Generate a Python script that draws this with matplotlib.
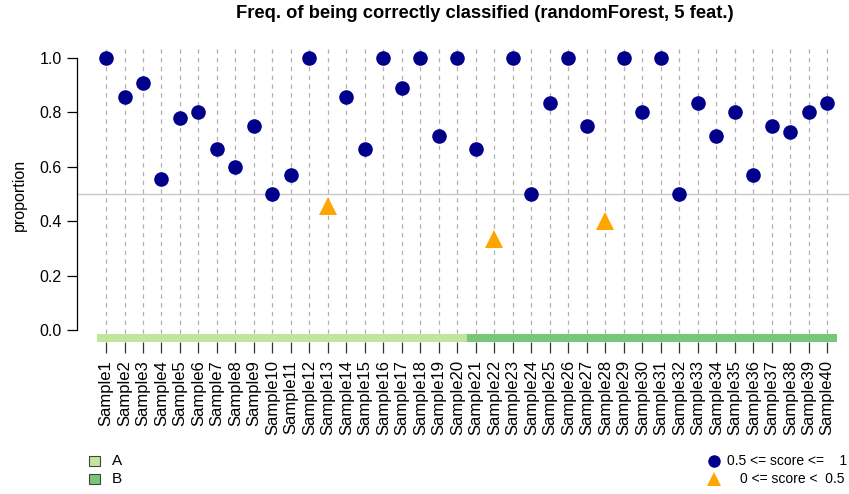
import numpy as np
import matplotlib.pyplot as plt
from matplotlib.patches import Rectangle

plt.rcParams["font.family"] = ["Liberation Sans", "DejaVu Sans"]

samples = [f"Sample{i}" for i in range(1, 41)]
proportion = [1.0, 0.857, 0.909, 0.556, 0.778, 0.8, 0.667, 0.6, 0.75, 0.5,
              0.571, 1.0, 0.455, 0.857, 0.667, 1.0, 0.889, 1.0, 0.714, 1.0,
              0.667, 0.333, 1.0, 0.5, 0.833, 1.0, 0.75, 0.4, 1.0, 0.8,
              1.0, 0.5, 0.833, 0.714, 0.8, 0.571, 0.75, 0.727, 0.8, 0.833]
groups = ["A"] * 20 + ["B"] * 20
group_colors = {"A": "#C2E699", "B": "#78C679"}

W, H = 849, 494
fig = plt.figure(figsize=(W / 100, H / 100), dpi=100)
ax = fig.add_axes([77 / W, 1 - 342 / H, (892 - 77) / W, (342 - 48) / H])

x = np.arange(1, len(samples) + 1)
y = np.array(proportion)

ax.set_xlim(1 - 29 / 18.49, 43.5)
ax.set_ylim(-0.044, 1.037)

ax.vlines(x, -0.044, 1.037, colors="#B0B0B0", linestyles=(0, (3.5, 3.5)), linewidth=0.9, zorder=1)
ax.axhline(0.5, color="#C8C8C8", linewidth=1.0, zorder=1)

# group bar along the bottom
for xi, g in zip(x, groups):
    ax.add_patch(Rectangle((xi - 0.5, -0.044), 1.0, 0.029, facecolor=group_colors[g],
                           edgecolor="none", zorder=2))

hi = y >= 0.5
ax.plot(x[hi], y[hi], "o", color="#00008B", markersize=10.5, zorder=3, markeredgewidth=0)
ax.plot(x[~hi], y[~hi], "^", color="#FFA500", markersize=12.5, zorder=3, markeredgewidth=0)

for s in ["top", "right", "bottom"]:
    ax.spines[s].set_visible(False)
ax.spines["left"].set_bounds(0, 1)
ax.spines["left"].set_linewidth(0.9)
ax.set_yticks([0, 0.2, 0.4, 0.6, 0.8, 1.0])
ax.set_yticklabels(["0.0", "0.2", "0.4", "0.6", "0.8", "1.0"])
ax.set_xticks(x)
ax.set_xticklabels(samples, rotation=90)
ax.tick_params(axis="y", length=7, width=0.9, labelsize=11.5, pad=4)
ax.tick_params(axis="x", length=8, width=0.9, labelsize=12, pad=5, color="#333333")
ax.set_ylabel("proportion", fontsize=11.5, labelpad=9)

fig.text(484.5 / W, 1 - 14 / H, "Freq. of being correctly classified (randomForest, 5 feat.)",
         ha="center", va="center", fontsize=13.2, fontweight="bold")

# legends
for gname, ly in [("A", 461), ("B", 479)]:
    fig.patches.append(Rectangle((89 / W, 1 - (ly + 5) / H), 11 / W, 10 / H, transform=fig.transFigure,
                                 facecolor=group_colors[gname], edgecolor="#444444", linewidth=0.8))
    fig.text(112 / W, 1 - ly / H, gname, ha="left", va="center", fontsize=11)

fig.add_artist(plt.Line2D([714 / W], [1 - 461 / H], marker="o", color="#00008B", markersize=9,
                          markeredgewidth=0, transform=fig.transFigure))
fig.add_artist(plt.Line2D([714 / W], [1 - 479 / H], marker="^", color="#FFA500", markersize=10,
                          markeredgewidth=0, transform=fig.transFigure))
fig.text(727 / W, 1 - 461 / H, "0.5 <= score <=    1", ha="left", va="center", fontsize=10)
fig.text(740 / W, 1 - 479 / H, "0 <= score <  0.5", ha="left", va="center", fontsize=10)

fig.savefig("out.png", dpi=100)
